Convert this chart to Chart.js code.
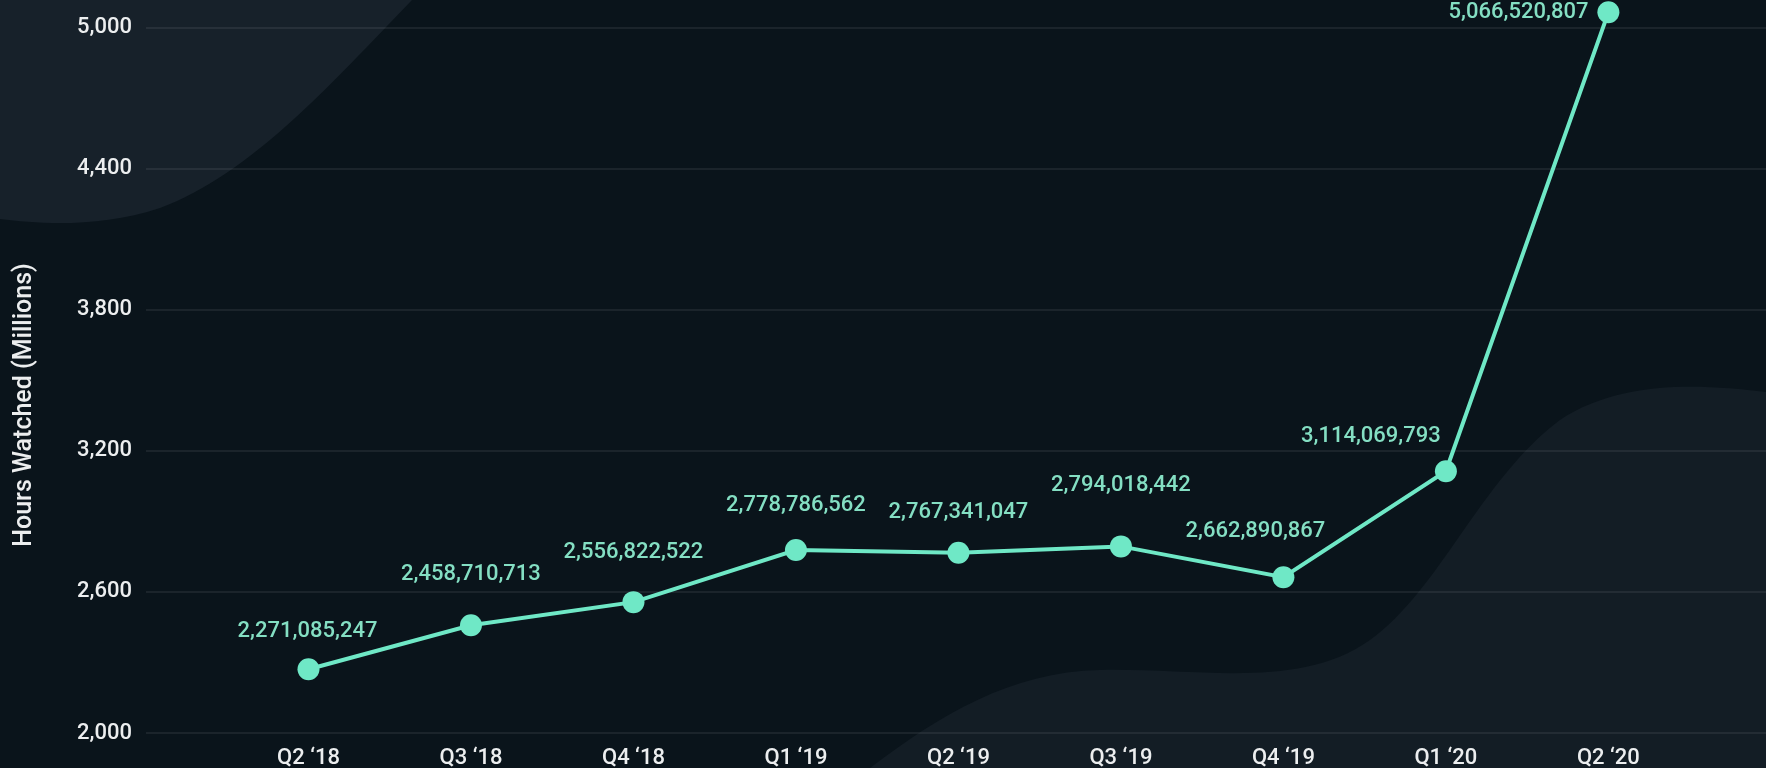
<!DOCTYPE html>
<html>
<head>
<meta charset="utf-8">
<title>Hours Watched</title>
<script src="https://cdn.jsdelivr.net/npm/chart.js@4/dist/chart.umd.min.js"></script>
<style>
    html, body { margin: 0; padding: 0; background: #0a141b; }
    #wrap { width: 1766px; height: 768px; position: relative; }
</style>
</head>
<body>
<div id="wrap"><canvas id="hoursChart"></canvas></div>
<script>
// Hours watched per quarter
// -----------------------------------
var quarters = ['Q2 \u201818', 'Q3 \u201818', 'Q4 \u201818', 'Q1 \u201819', 'Q2 \u201819', 'Q3 \u201819', 'Q4 \u201819', 'Q1 \u201820', 'Q2 \u201820'];
var hoursWatched = [2271085247, 2458710713, 2556822522, 2778786562, 2767341047, 2794018442, 2662890867, 3114069793, 5066520807];
var yTicks = [2000, 2600, 3200, 3800, 4400, 5000];
var yTitle = 'Hours Watched (Millions)';

(function(window, document, undefined) {

    var mint = '#6fe8c6';
    var labelMint = '#84dfc3';
    var tickColor = '#eceeef';

    // per-label nudges, the source places them by hand
    var labelNudge = [
        { dx: -1, dy: -38, align: 'center' },
        { dx: 0, dy: -51, align: 'center' },
        { dx: 0, dy: -50, align: 'center' },
        { dx: 0, dy: -44, align: 'center' },
        { dx: 0, dy: -40, align: 'center' },
        { dx: 0, dy: -61, align: 'center' },
        { dx: -28, dy: -46, align: 'center' },
        { dx: -75, dy: -35, align: 'center' },
        { dx: -20, dy: 0, align: 'right' }
    ];

    // dark background with the two soft blobs
    var backdrop = {
        id: 'backdrop',
        beforeDraw: function(chart) {
            var ctx = chart.ctx, w = chart.width, h = chart.height;
            ctx.save();
            ctx.fillStyle = '#0a141b';
            ctx.fillRect(0, 0, w, h);

            ctx.fillStyle = '#17212a';
            ctx.beginPath();
            ctx.moveTo(0, 0);
            ctx.lineTo(412, 0);
            ctx.bezierCurveTo(330, 85, 250, 175, 160, 208);
            ctx.bezierCurveTo(100, 228, 40, 224, 0, 219);
            ctx.closePath();
            ctx.fill();

            ctx.fillStyle = '#131d25';
            ctx.beginPath();
            ctx.moveTo(870, h);
            ctx.bezierCurveTo(940, 715, 1010, 672, 1100, 670);
            ctx.bezierCurveTo(1200, 668, 1300, 690, 1370, 640);
            ctx.bezierCurveTo(1440, 590, 1480, 480, 1560, 420);
            ctx.bezierCurveTo(1620, 380, 1700, 384, w, 392);
            ctx.lineTo(w, h);
            ctx.closePath();
            ctx.fill();
            ctx.restore();
        }
    };

    // value labels next to every point, plus the y title (sits below the axis middle in the source)
    var valueLabels = {
        id: 'valueLabels',
        afterDatasetsDraw: function(chart) {
            var ctx = chart.ctx;
            var meta = chart.getDatasetMeta(0);
            ctx.save();
            ctx.font = '500 22px Roboto';
            ctx.fillStyle = labelMint;
            ctx.textBaseline = 'middle';
            meta.data.forEach(function(pt, i) {
                var n = labelNudge[i];
                ctx.textAlign = n.align;
                ctx.fillText(hoursWatched[i].toLocaleString('en-US'), pt.x + n.dx, pt.y + n.dy);
            });

            ctx.translate(25, 405);
            ctx.rotate(-Math.PI / 2);
            ctx.font = '500 25px Roboto';
            ctx.fillStyle = tickColor;
            ctx.textAlign = 'center';
            ctx.fillText(yTitle, 0, 0);
            ctx.restore();
        }
    };

    var ctx = document.getElementById('hoursChart').getContext('2d');
    var hoursChart = new Chart(ctx, {
        type: 'line',
        data: {
            datasets: [{
                label: 'Hours Watched',
                data: hoursWatched.map(function(v, i) { return { x: i, y: v / 1e6 }; }),
                borderColor: mint,
                backgroundColor: mint,
                borderWidth: 4,
                pointRadius: 11,
                pointBorderWidth: 0,
                pointBackgroundColor: mint,
                tension: 0,
                clip: false
            }]
        },
        options: {
            responsive: true,
            maintainAspectRatio: false,
            animation: false,
            layout: { autoPadding: false, padding: { top: 8, right: 0, bottom: 0, left: 0 } },
            plugins: {
                legend: { display: false },
                tooltip: { enabled: false }
            },
            scales: {
                x: {
                    type: 'linear',
                    min: -1,
                    max: 8.97,
                    grid: { display: false },
                    border: { display: false },
                    afterBuildTicks: function(scale) {
                        scale.ticks = quarters.map(function(q, i) { return { value: i }; });
                    },
                    afterFit: function(scale) {
                        scale.height = 35;
                        scale.paddingLeft = 0;
                        scale.paddingRight = 0;
                    },
                    ticks: {
                        autoSkip: false,
                        maxRotation: 0,
                        padding: 4,
                        color: tickColor,
                        font: { family: 'Roboto', size: 22, weight: '500' },
                        callback: function(v) { return quarters[v] || ''; }
                    }
                },
                y: {
                    min: yTicks[0],
                    // headroom above the 5,000 line so the top point is not dropped
                    max: 5085,
                    afterBuildTicks: function(scale) {
                        scale.ticks = yTicks.map(function(v) { return { value: v }; });
                    },
                    afterFit: function(scale) {
                        scale.width = 146;
                        scale.paddingTop = 0;
                        scale.paddingBottom = 0;
                    },
                    grid: {
                        color: 'rgba(255,255,255,0.07)',
                        lineWidth: 2,
                        drawTicks: false
                    },
                    border: { display: false },
                    ticks: {
                        padding: 14,
                        color: tickColor,
                        font: { family: 'Roboto', size: 22, weight: '500' },
                        callback: function(v) { return v.toLocaleString('en-US'); }
                    },
                    title: { display: false, text: yTitle }
                }
            }
        },
        plugins: [backdrop, valueLabels]
    });

})(window, document);
</script>
</body>
</html>
